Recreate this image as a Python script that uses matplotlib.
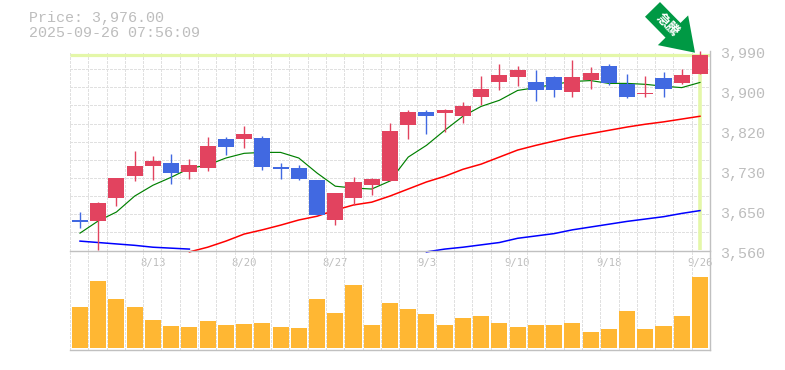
import numpy as np
import matplotlib
matplotlib.use("Agg")
import matplotlib.pyplot as plt
from matplotlib.patches import FancyArrow
from matplotlib.transforms import ScaledTranslation

W, H, DPI = 785, 370, 100

opens = [3625,3623,3672,3718,3740,3746,3727,3735,3797,3797,3799,3737,3735,3710,3625,3672,3699,3708,3827,
         3856,3852,3846,3886,3920,3929,3920,3929,3897,3924,3952,3914,3893,3927,3916,3937]
highs = [3642,3663,3714,3771,3761,3765,3754,3801,3801,3825,3803,3746,3742,3710,3682,3716,3714,3831,3859,
         3859,3861,3876,3931,3958,3952,3944,3931,3965,3950,3958,3937,3931,3941,3946,3986]
lows = [3608,3561,3654,3708,3710,3701,3712,3729,3763,3778,3731,3712,3710,3635,3614,3657,3678,3708,3797,
        3808,3812,3831,3871,3901,3910,3878,3886,3886,3905,3912,3884,3886,3886,3914,3935]
closes = [3621,3661,3714,3740,3750,3725,3742,3782,3780,3808,3737,3733,3712,3635,3682,3706,3712,3814,3856,
          3846,3859,3867,3903,3933,3944,3901,3901,3929,3939,3916,3886,3895,3903,3933,3976]
volumes = [41,67,49,41,28,22,21,27,23,24,25,21,20,49,35,63,23,45,
           39,34,23,30,32,25,21,23,23,25,16,19,37,19,22,32,71]
ma_short = [3597,3623,3642,3676,3699,3716,3735,3742,3757,3767,3769,3769,3757,3725,3697,3693,3691,3708,3759,
            3784,3816,3846,3867,3880,3901,3907,3914,3920,3922,3916,3916,3914,3910,3907,3918]
nan = float("nan")
ma_mid = [nan]*6 + [3557,3567,3580,3595,3604,3614,3625,3633,3646,3657,3663,3676,3691,3706,3718,3733,3744,
                    3759,3774,3784,3793,3802,3809,3816,3823,3829,3834,3840,3846]
ma_long = [3580,3577,3574,3571,3567,3565,3563] + [nan]*12 + [3557,3563,3567,3572,3577,3586,3591,3596,3604,
                                                             3610,3616,3622,3627,3632,3639,3645]
price_ticks = [3560,3645,3730,3815,3900,3985]
price_labels = ["3,560","3,650","3,730","3,820","3,900","3,990"]
date_pos = [4,9,14,19,24,29,34]
date_labels = ["8/13","8/20","8/27","9/3","9/10","9/18","9/26"]
last_price = 3976

RED, BLUE, ORANGE = "#e2435f", "#4169e1", "#ffb733"
YEL, GRID, FRAME, TXT = "#e4f7a9", "#e0e0e0", "#c0c0c0", "#bdbdbd"
MONO = "Liberation Mono"
DASH = (0, (2.8, 1.5))

x = np.arange(len(closes))
fig = plt.figure(figsize=(W/DPI, H/DPI), dpi=DPI, facecolor="white")

def axbox(l, t, r, b):
    return [l/W, 1-b/H, (r-l)/W, (b-t)/H]

ax = fig.add_axes(axbox(70, 51, 710, 250.5))
av = fig.add_axes(axbox(70, 250.5, 710, 350))
xlim = (-0.548, 34.55)
vgrid = np.linspace(xlim[0], xlim[1], 36)

for a in (ax, av):
    a.set_xlim(*xlim)
    a.patch.set_visible(False)
    a.set_axisbelow(True)
    a.set_xticks(vgrid, minor=True)
    a.tick_params(which="both", length=0)
    a.grid(False)
    a.grid(which="minor", axis="x", color=GRID, lw=0.72, ls=DASH, clip_on=False, antialiased=False)
    for s in a.spines.values():
        s.set_visible(False)
    for s in ("bottom", "right"):
        a.spines[s].set_visible(True)
        a.spines[s].set_color(FRAME)
        a.spines[s].set_linewidth(1.0)

# price panel
ax.set_ylim(3560, 3985)
ax.set_yticks(np.linspace(3560, 3985, 12), minor=True)
ax.grid(which="minor", axis="y", color=GRID, lw=0.72, ls=DASH, clip_on=False, antialiased=False)
ax.yaxis.tick_right()
ax.set_yticks(price_ticks, price_labels)
ax.tick_params(axis="y", which="major", pad=7.2, labelsize=10.8, labelcolor=TXT)
shift = ScaledTranslation(0, -2/DPI, fig.dpi_scale_trans)
for t in ax.get_yticklabels():
    t.set_fontfamily(MONO)
    t.set_transform(t.get_transform() + shift)
ax.set_xticks(date_pos, date_labels)
ax.tick_params(axis="x", which="major", pad=5.5, labelsize=7.6, labelcolor=TXT)
for t in ax.get_xticklabels():
    t.set_fontfamily("DejaVu Sans Mono")
av.set_yticks([])
av.set_xticks([])

ax.axhline(last_price, color=YEL, lw=2.3, zorder=1, solid_capstyle="butt")
ax.plot([x[-1], x[-1]], [last_price, 3560], color=YEL, lw=2.6, zorder=1, solid_capstyle="butt")

for vals, col, lw in ((ma_long, "#0000ff", 1.1), (ma_mid, "#ff0000", 1.1), (ma_short, "#008000", 0.85)):
    ax.plot(x, vals, color=col, lw=lw, antialiased=True, zorder=2, clip_on=False)

colors = [RED if c >= o else BLUE for o, c in zip(opens, closes)]
ax.vlines(x, lows, highs, colors=colors, lw=1.0, zorder=3, clip_on=False)
bottoms = [min(o, c) for o, c in zip(opens, closes)]
heights = [abs(c - o) for o, c in zip(opens, closes)]
ax.bar(x, heights, bottom=bottoms, width=0.88, color=colors, zorder=4, linewidth=0, clip_on=False)

# volume panel
av.set_ylim(-2, 97.5)
av.bar(x, volumes, width=0.88, color=ORANGE, linewidth=0, zorder=3)

# header
fig.text(29/W, 1-18/H, "Price: 3,976.00", family=MONO, fontsize=10.8, color=TXT, va="center")
fig.text(29/W, 1-33/H, "2025-09-26 07:56:09", family=MONO, fontsize=10.8, color=TXT, va="center")

# surge arrow badge
arrow = FancyArrow(652.5, H-9.4, 42.5, -43.3, width=21, head_width=42.4, head_length=31.4,
                   length_includes_head=True, color="#009944", linewidth=0,
                   transform=None, zorder=10)
fig.add_artist(arrow)
fig.text(667.5/W, 1-25/H, "急騰", family="Noto Sans CJK JP", weight="bold", fontsize=9.5, color="white",
         rotation=-45, rotation_mode="anchor", ha="center", va="center", zorder=11)

fig.savefig("out.png", dpi=DPI)
